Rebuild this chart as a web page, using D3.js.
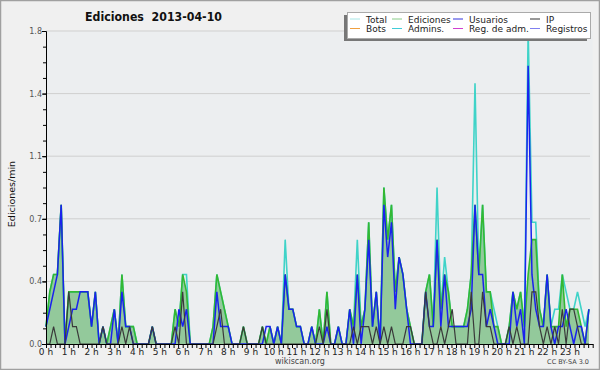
<!DOCTYPE html>
<html><head><meta charset="utf-8">
<script src="https://cdn.jsdelivr.net/npm/d3@7"></script>
<style>
html,body{margin:0;padding:0;background:#f0f0f0;}
svg{display:block;font-family:"DejaVu Sans",sans-serif;}
</style></head>
<body>
<svg id="c" width="600" height="370"></svg>
<script>
// ---- data (10-minute bins, edits per minute) ----
const title = "Ediciones  2013-04-10";
const yTitle = "Ediciones/min";
const hourLabels = d3.range(0, 24).map(h => h + " h");
const yTickValues = [0, 0.36, 0.72, 1.08, 1.44, 1.8];

const total = [
 0.1,0.3,0.4,0.4,0.8,0,   0.3,0.3,0.3,0.3,0.3,0.3,  0.1,0.3,0,0.1,0,0.1,   0.2,0,0.4,0.1,0.1,0.1,
 0,0,0,0,0.1,0,           0,0,0,0,0.2,0.1,          0.4,0.4,0,0,0,0,         0,0,0.1,0.4,0.3,0.2,
 0.1,0,0,0,0.1,0,         0,0,0,0.1,0,0.1,          0,0.1,0,0.6,0.2,0.2,     0.1,0.1,0,0,0.1,0,
 0.2,0,0.3,0,0,0.1,       0,0,0.2,0.1,0.6,0.1,      0.2,0.7,0.1,0.3,0,0.9,   0.6,0.8,0.3,0.5,0.4,0.2,
 0.1,0,0,0,0.3,0.4,       0.1,0.9,0.2,0.5,0.3,0.1,  0.1,0.1,0.1,0.2,0.4,1.5, 0.4,0.8,0.3,0.3,0.2,0.1,
 0,0,0.1,0.3,0.2,0.3,     0.1,1.8,0.7,0.7,0.2,0.1,  0.4,0.1,0.2,0.2,0.4,0.3, 0.2,0.2,0.3,0.2,0.1,0.2
];
const edits = [
 0.1,0.3,0.4,0.4,0.8,0,   0.3,0.3,0.3,0.3,0.3,0.3,  0.1,0.3,0,0.1,0,0.1,   0.2,0,0.4,0.1,0.1,0.1,
 0,0,0,0,0.1,0,           0,0,0,0,0.2,0.1,          0.4,0.3,0,0,0,0,         0,0,0.1,0.4,0.3,0.2,
 0.1,0,0,0,0.1,0,         0,0,0,0.1,0,0.1,          0,0.1,0,0.4,0.2,0.2,     0.1,0.1,0,0,0.1,0,
 0.2,0,0.3,0,0,0.1,       0,0,0.2,0.1,0.4,0.1,      0.2,0.7,0.1,0.3,0,0.9,   0.6,0.8,0.3,0.5,0.4,0.2,
 0.1,0,0,0,0.3,0.4,       0.1,0.6,0.2,0.4,0.3,0.1,  0.1,0.1,0.1,0.2,0.4,0.8, 0.4,0.8,0.3,0.3,0.1,0.1,
 0,0,0.1,0.3,0.2,0.3,     0.1,0.4,0.6,0.6,0.2,0.1,  0.4,0.1,0.1,0.1,0.4,0.1, 0.2,0.2,0.2,0.1,0,0.2
];
const users = [
 0.1,0.2,0.3,0.4,0.8,0,   0.1,0.2,0.2,0.3,0.3,0.3,  0.1,0.3,0,0.1,0,0,     0.2,0,0.3,0.1,0.1,0,
 0,0,0,0,0.1,0,           0,0,0,0,0,0.2,            0.1,0.2,0,0,0,0,         0,0,0,0.3,0.1,0.1,
 0.1,0,0,0,0,0,           0,0,0,0,0.1,0.1,          0,0.1,0,0.4,0.2,0.2,     0.1,0.1,0,0,0.1,0,
 0,0,0.1,0,0,0.1,         0,0,0.2,0,0.4,0,          0.2,0.6,0.1,0.3,0,0.8,   0.5,0.7,0.2,0.5,0.4,0.2,
 0,0,0,0,0.3,0.1,         0.1,0.6,0.1,0.4,0.1,0.1,  0.1,0.1,0.1,0.1,0.2,0.8, 0.4,0.4,0.1,0.2,0.1,0,
 0,0,0,0.3,0.1,0.2,       0,1.6,0.4,0.2,0.1,0.1,    0.4,0.1,0,0.1,0.1,0.2,   0.1,0,0.1,0.1,0,0.2
];
const ip = [
 0,0,0.1,0,0,0,           0.3,0.1,0.1,0,0,0,        0,0,0,0.1,0,0,           0,0,0.1,0,0.1,0,
 0,0,0,0,0.1,0,           0,0,0,0,0.1,0,            0.3,0,0,0,0,0,           0,0,0,0.1,0.2,0,
 0,0,0,0,0.1,0,           0,0,0,0.1,0,0,            0,0,0,0,0,0,             0,0,0,0,0,0,
 0.1,0,0.2,0,0,0,         0,0,0,0.1,0,0.1,          0.1,0.1,0,0.1,0,0.1,     0,0.1,0,0,0,0.1,
 0.1,0,0,0,0.3,0.1,       0,0,0.1,0,0.1,0.2,        0,0,0,0,0.3,0,           0,0.3,0.1,0.1,0,0,
 0,0,0.1,0,0.1,0,         0,0,0.3,0.3,0.1,0,        0.1,0,0.1,0,0.2,0,       0.2,0.2,0.1,0,0,0
];

const legendNames = ["Total","Ediciones","Usuarios","IP","Bots","Admins.","Reg. de adm.","Registros"];
const legendColors = ["#a8e6e6","#88cc88","#3333dd","#333333","#f0a040","#40ccd8","#d040d0","#8080f0"];

// ---- drawing ----
const svg = d3.select("#c");
const W = 600, H = 370;
const L = 46, R = 592.7, T = 31, B = 344;

svg.append("rect").attr("x",0.5).attr("y",0.5).attr("width",W-1).attr("height",H-1)
  .attr("fill","#f0f0f0").attr("stroke","#a0a0a0").attr("stroke-width",1.5);
svg.append("rect").attr("x",L).attr("y",T).attr("width",R-L).attr("height",B-T).attr("fill","#eceef0");

const x = d3.scaleLinear().domain([0,24]).range([L,R]);
const y = d3.scaleLinear().domain([0,1.8]).range([B,T]);
const xi = (d,i) => x(i/6);

// gridlines
svg.append("g").selectAll("line").data(yTickValues.slice(1)).join("line")
  .attr("x1",L).attr("x2",590).attr("y1",d=>y(d)).attr("y2",d=>y(d))
  .attr("stroke","#cfcfcf").attr("stroke-width",1);

// series
const area = d3.area().x(xi).y0(y(0)).y1(d=>y(d));
const line = d3.line().x(xi).y(d=>y(d));

svg.append("path").datum(edits).attr("d",area).attr("fill","#93c99b");
svg.append("path").datum(total).attr("d",line).attr("fill","none").attr("stroke","#3fd3c8").attr("stroke-width",1.6);
svg.append("path").datum(edits).attr("d",line).attr("fill","none").attr("stroke","#33b833").attr("stroke-width",1.6);
svg.append("path").datum(users).attr("d",line).attr("fill","none").attr("stroke","#1a22ee").attr("stroke-width",1.5);
svg.append("path").datum(ip).attr("d",line).attr("fill","none").attr("stroke","#3a3a3a").attr("stroke-width",1.2);

// y axis
const yMinor = d3.range(0, 1.8001, 0.09);
const yAxisMinor = d3.axisLeft(y).tickValues(yMinor).tickSize(3).tickFormat("");
const gyMinor = svg.append("g").attr("transform",`translate(${L},0)`).call(yAxisMinor);
const yAxis = d3.axisLeft(y).tickValues(yTickValues).tickSize(4).tickFormat(d3.format(".1f"));
const gy = svg.append("g").attr("transform",`translate(${L},0)`).call(yAxis);
gy.selectAll("text").attr("font-size",8).attr("fill","#555").attr("x",-4).attr("font-family","DejaVu Sans");
[gy, gyMinor].forEach(g=>{ g.select(".domain").attr("stroke","#000"); g.selectAll(".tick line").attr("stroke","#000"); });
gyMinor.select(".domain").remove();

// x axis
const xAxis = d3.axisBottom(x).tickValues(d3.range(0, 24.001, 0.2)).tickSize(4).tickSizeOuter(0).tickFormat("");
const gx = svg.append("g").attr("transform",`translate(0,${B})`).call(xAxis);
gx.select(".domain").attr("stroke","#000");
gx.selectAll(".tick line").attr("stroke","#000");
svg.append("g").selectAll("text").data(hourLabels).join("text")
  .attr("x",(d,i)=>x(i)).attr("y",355).attr("text-anchor","middle")
  .attr("font-size",9).attr("fill","#222").text(d=>d);

// titles
svg.append("text").attr("x",85).attr("y",21)
  .attr("font-size",12.5).attr("font-weight","bold").attr("fill","#111")
  .attr("textLength",137).attr("lengthAdjust","spacingAndGlyphs")
  .style("white-space","pre").text(title);
svg.append("text").attr("transform","translate(15,194) rotate(-90)").attr("text-anchor","middle")
  .attr("font-size",9.5).attr("fill","#111").text(yTitle);
svg.append("text").attr("x",300).attr("y",364).attr("text-anchor","middle")
  .attr("font-size",8).attr("fill","#444").text("wikiscan.org");
svg.append("text").attr("x",589).attr("y",364).attr("text-anchor","end")
  .attr("font-size",6.5).attr("fill","#444").text("CC BY-SA 3.0");

// legend
const lg = svg.append("g");
lg.append("rect").attr("x",344).attr("y",15).attr("width",243).attr("height",26).attr("fill","#777");
lg.append("rect").attr("x",347.5).attr("y",12.5).attr("width",243).attr("height",26)
  .attr("fill","#fff").attr("stroke","#aaa");
const colX = [350, 392, 453, 530];
legendNames.forEach((name,k)=>{
  const c = k%4, r = Math.floor(k/4);
  const ly = 19 + r*9.5;
  lg.append("line").attr("x1",colX[c]).attr("x2",colX[c]+10).attr("y1",ly).attr("y2",ly)
    .attr("stroke",legendColors[k]).attr("stroke-width",1);
  lg.append("text").attr("x",colX[c]+16).attr("y",ly+3.5).attr("font-size",9).attr("fill","#222").text(name);
});
</script>
</body></html>
